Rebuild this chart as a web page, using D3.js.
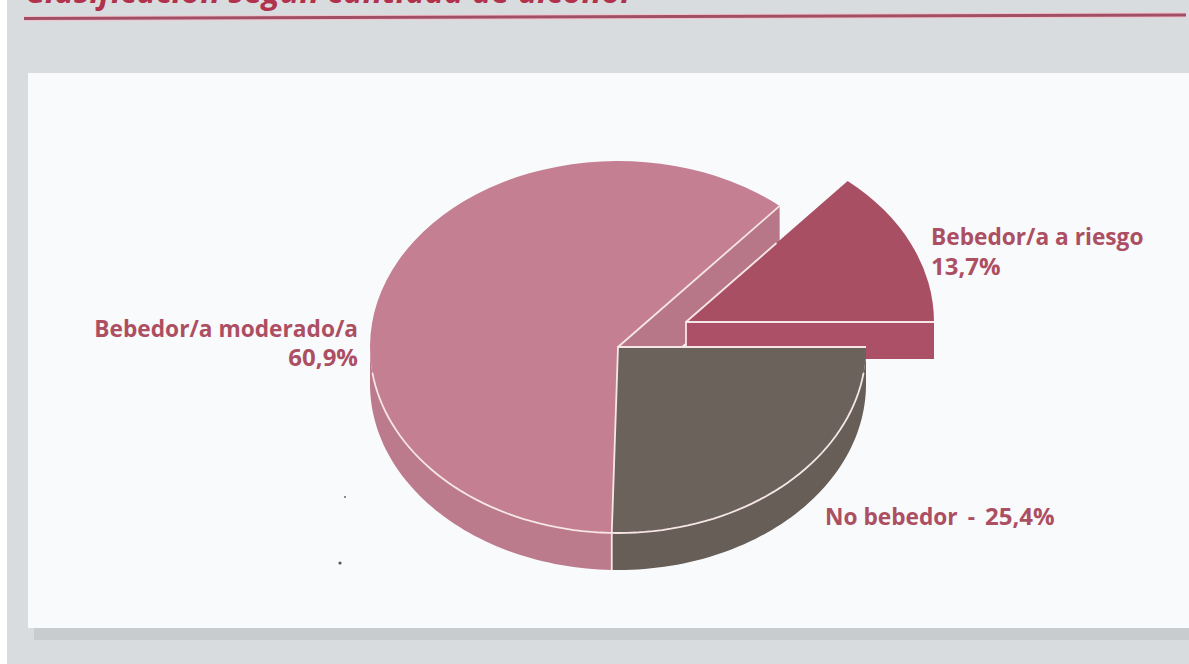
<!DOCTYPE html>
<html lang="es">
<head>
<meta charset="utf-8">
<title>Clasificación según cantidad de alcohol</title>
<script src="https://cdn.jsdelivr.net/npm/d3@7"></script>
<style>
  html, body { margin: 0; padding: 0; background: #fff; overflow: hidden; }
  svg { display: block; }
  text { font-family: "Open Sans", "Noto Sans", sans-serif; }
</style>
</head>
<body>
<script>
// Chart content
const titleText = "Clasificación según cantidad de alcohol";
const categories = ["No bebedor", "Bebedor/a moderado/a", "Bebedor/a a riesgo"];
const shares = [25.4, 60.9, 13.7];
const shareLabels = ["25,4%", "60,9%", "13,7%"];
const topColors = ["#6b625c", "#c47f92", "#a94f63"];
const wallColors = ["#675e58", "#bb7b8c", "#ab5067"];

const width = 1189, height = 664;
const svg = d3.select("body").append("svg").attr("width", width).attr("height", height);

// Page, panel and its drop shadow
svg.append("rect").attr("x", 7).attr("y", 0).attr("width", width).attr("height", height).attr("fill", "#d9dcde");
svg.append("rect").attr("x", 34).attr("y", 628).attr("width", width).attr("height", 12).attr("fill", "#c9cccf");
svg.append("rect").attr("x", 28).attr("y", 73).attr("width", width).attr("height", 555).attr("fill", "#f8fafc");

// Heading, cut by the top edge, and the rule beneath it
svg.append("text").attr("x", 25).attr("y", 3)
  .attr("font-size", 32.6).attr("font-weight", 700).attr("font-style", "italic")
  .attr("fill", "#b0324c").text(titleText);
svg.append("line").attr("x1", 24).attr("y1", 18.5).attr("x2", 1186).attr("y2", 15)
  .attr("stroke", "#f3c3cd").attr("stroke-width", 5);
svg.append("line").attr("x1", 24).attr("y1", 18.5).attr("x2", 1186).attr("y2", 15)
  .attr("stroke", "#a14f64").attr("stroke-width", 3);

// Pie geometry: a circle squashed vertically, extruded downwards
const cx = 618, cy = 347, radius = 248, squash = 0.75, depth = 37;
const explode = { x: 68, y: -25 };   // offset of the pulled-out slice
const innerFaceDepth = 55;           // the inner cut runs on behind the pulled-out slice

const slices = d3.pie().sort(null).startAngle(Math.PI / 2).endAngle(Math.PI / 2 + 2 * Math.PI)(shares);
const arcGen = d3.arc().innerRadius(0).outerRadius(radius);

const px = a => radius * Math.sin(a);
const py = a => -radius * squash * Math.cos(a);

// Outer wall of a slice, limited to the part of the rim facing the viewer
const wallPath = (a0, a1) => {
  const angles = d3.range(0, 61).map(i => a0 + (a1 - a0) * i / 60);
  return d3.area().x(a => px(a)).y0(a => py(a)).y1(a => py(a) + depth)(angles);
};

const none = slices[0], moderate = slices[1], risk = slices[2];
const mainGroup = () => svg.append("g").attr("transform", `translate(${cx},${cy})`);
const riskGroup = () => svg.append("g").attr("transform", `translate(${cx + explode.x},${cy + explode.y})`);

// Cut face of the moderate slice goes first, so the pulled-out slice overlaps it
const aEnd = moderate.endAngle;
mainGroup().append("path")
  .attr("d", d3.line()([[0, 0], [px(aEnd), py(aEnd)], [px(aEnd), py(aEnd) + innerFaceDepth], [0, innerFaceDepth]]))
  .attr("fill", "#b87789");

// Pulled-out slice: front face, then top
const rg = riskGroup();
rg.append("path")
  .attr("d", d3.line()([[0, 0], [px(risk.endAngle), py(risk.endAngle)], [px(risk.endAngle), py(risk.endAngle) + depth], [0, depth]]))
  .attr("fill", wallColors[2]);
rg.append("path").attr("d", arcGen(risk)).attr("transform", `scale(1,${squash})`).attr("fill", topColors[2]);

// Main body: walls, then tops
const mg = mainGroup();
mg.append("path").attr("d", wallPath(none.startAngle, none.endAngle)).attr("fill", wallColors[0]);
mg.append("path").attr("d", wallPath(moderate.startAngle, 3 * Math.PI / 2)).attr("fill", wallColors[1]);
[moderate, none].forEach(s => {
  mg.append("path").attr("d", arcGen(s)).attr("transform", `scale(1,${squash})`).attr("fill", topColors[s.index]);
});

// Pale highlight lines along the slice edges
const edge = svg.append("g").attr("fill", "none").attr("stroke", "#f7e6e6").attr("stroke-width", 1.8);
const rimLine = d3.line().x(a => px(a)).y(a => py(a));
const rimAngles = (a0, a1) => d3.range(0, 81).map(i => a0 + (a1 - a0) * i / 80);
const rimTrim = 8 * Math.PI / 180;

const main = edge.append("g").attr("transform", `translate(${cx},${cy})`);
main.append("path").attr("d", rimLine(rimAngles(none.startAngle + rimTrim, 3 * Math.PI / 2 - rimTrim)));
main.append("path").attr("d", d3.line()([[0, 0], [px(aEnd), py(aEnd)]]));
main.append("path").attr("d", d3.line()([[px(none.startAngle), 0], [0, 0], [px(none.endAngle), py(none.endAngle)], [px(none.endAngle), py(none.endAngle) + depth]]));

const out = edge.append("g").attr("transform", `translate(${cx + explode.x},${cy + explode.y})`);
out.append("path").attr("d", d3.line()([[0, -explode.y], [0, 0], [px(risk.endAngle), 0]]));
const k = 0.56;
out.append("path").attr("d", d3.line()([[0, 0], [k * px(risk.startAngle), k * py(risk.startAngle)]]));

// Labels
const labelColor = "#ad4f62";
const labels = svg.append("g").attr("fill", labelColor).attr("font-size", 22.7).attr("font-weight", 700);
const shareSize = 24;
labels.append("text").attr("x", 931).attr("y", 245).text(categories[2]);
labels.append("text").attr("x", 931).attr("y", 275).attr("font-size", shareSize).text(shareLabels[2]);
labels.append("text").attr("x", 358).attr("y", 337).attr("text-anchor", "end").text(categories[1]);
labels.append("text").attr("x", 358).attr("y", 366).attr("text-anchor", "end").attr("font-size", shareSize).text(shareLabels[1]);
const noneLabel = labels.append("text").attr("x", 825).attr("y", 525);
noneLabel.append("tspan").text(categories[0]);
noneLabel.append("tspan").attr("dx", 10).text("-");
noneLabel.append("tspan").attr("dx", 10).attr("font-size", shareSize).text(shareLabels[0]);

// Small print specks on the panel
svg.append("g").attr("fill", "#55585a").selectAll("circle")
  .data([[345, 497, 0.9], [340, 563, 1.6]])
  .join("circle").attr("cx", d => d[0]).attr("cy", d => d[1]).attr("r", d => d[2]);
</script>
</body>
</html>
